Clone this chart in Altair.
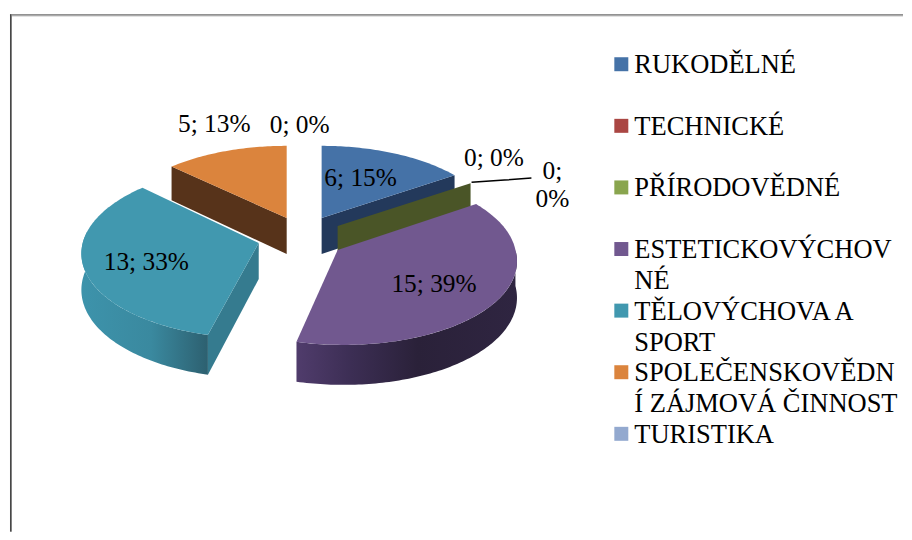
import math
import altair as alt
import pandas as pd

# --- data
categories = ["RUKODĚLNÉ", "TECHNICKÉ", "PŘÍRODOVĚDNÉ", "ESTETICKOVÝCHOVNÉ",
              "TĚLOVÝCHOVA A SPORT", "SPOLEČENSKOVĚDNÍ ZÁJMOVÁ ČINNOST", "TURISTIKA"]
legend_lines = ["RUKODĚLNÉ", "TECHNICKÉ", "PŘÍRODOVĚDNÉ", "ESTETICKOVÝCHOV\nNÉ",
                "TĚLOVÝCHOVA A\nSPORT", "SPOLEČENSKOVĚDN\nÍ ZÁJMOVÁ ČINNOST", "TURISTIKA"]
values = [6, 0, 0, 15, 13, 5, 0]
percents = [15, 0, 0, 39, 33, 13, 0]
colors = ["#4572a7", "#aa4643", "#89a54e", "#71588f", "#4198af", "#db843d", "#93a9cf"]

# --- layout of the exploded 3-D pie (image pixels)
apex = {0: (322, 218), 2: (338, 226), 3: (338, 250), 4: (259, 243), 5: (287, 218)}
shrink = {0: (.96, .93), 2: (.96, .93), 3: (1, 1), 4: (.99, 1), 5: (.96, .93)}
shear = {0: 0, 2: 0, 3: .065, 4: -.045, 5: 0}
RX, RY, PERSP, DEPTH = 178, 85.5, .1, 36
label_x = [361, 494.5, 553, 434.5, 146.5, 214.5, 300]
label_y = [186, 166, 179, 292, 270, 132, 133]

total = sum(values)
edges = [0]
for v in values:
    edges.append(edges[-1] + v / total * 360)


def rim(i, deg):
    t = math.radians(deg)
    den = 1 + PERSP * math.cos(t)
    ax, ay = apex[i]
    sx, sy = shrink[i]
    dy = -RY * sy * math.cos(t) / den
    lean = shear[i] * (max(0, dy) if i == 3 else dy)
    return ax + RX * sx * math.sin(t) / den + lean, ay + dy


def drop(deg):
    return DEPTH / (1 + PERSP * math.cos(math.radians(deg)))


def steps(a, b):
    n = max(2, int(abs(b - a)))
    return [a + (b - a) * k / n for k in range(n + 1)]


def top(i):
    return [apex[i]] + [rim(i, d) for d in steps(edges[i], edges[i + 1])]


def radial_wall(i, deg):
    ax, ay = apex[i]
    x, y = rim(i, deg)
    return [(ax, ay), (x, y), (x, y + drop(deg)), (ax, ay + DEPTH)]


def outer_wall(i, a, b):
    ds = steps(a, b)
    upper = [rim(i, d) for d in ds]
    lower = [(rim(i, d)[0], rim(i, d)[1] + drop(d)) for d in reversed(ds)]
    return upper + lower


x_scale = alt.Scale(domain=[8, 904], nice=False, zero=False)
y_scale = alt.Scale(domain=[532, 8], nice=False, zero=False)
X = alt.X("x:Q", axis=None, scale=x_scale)
Y = alt.Y("y:Q", axis=None, scale=y_scale)


def poly(points, fill):
    df = pd.DataFrame({"x": [p[0] for p in points], "y": [p[1] for p in points],
                       "o": list(range(len(points)))})
    return alt.Chart(df).mark_line(fill=fill, strokeOpacity=0, interpolate="linear").encode(
        x=X, y=Y, order="o:Q")


def grad(stops):
    return alt.Gradient(gradient="linear", x1=0, x2=1, y1=0, y2=0,
                        stops=[alt.GradientStop(color=c, offset=o) for o, c in stops])


teal_grad = grad([(0, "#3d93ab"), (.55, "#3a899f"), (1, "#2d6070")])
purple_grad = grad([(0, "#503c6c"), (.25, "#3c2e54"), (.55, "#2a2139"), (1, "#2f2541")])

layers = [
    poly(radial_wall(5, edges[5]), "#57331a"),
    poly(top(5), colors[5]),
    poly(radial_wall(0, edges[1]), "#23395b"),
    poly(top(0), colors[0]),
    poly(radial_wall(2, edges[3]), "#4a5527"),
    poly(outer_wall(4, edges[4], 278), teal_grad),
    poly(radial_wall(4, edges[4]), "#357b8f"),
    poly(top(4), colors[4]),
    poly(outer_wall(3, 90, edges[4]), purple_grad),
    poly(top(3), colors[3]),
]

# frame
frame_h = pd.DataFrame({"x": [10], "x2": [904], "y": [14.5], "y3": [15.5]})
frame_v = pd.DataFrame({"x": [10.5], "x3": [11.5], "y": [14], "y2": [532]})
layers += [
    alt.Chart(frame_h).mark_rule(color="#666666", strokeWidth=1).encode(x=X, x2="x2:Q", y=Y),
    alt.Chart(frame_h).mark_rule(color="#999999", strokeWidth=1).encode(
        x=X, x2="x2:Q", y=alt.Y("y3:Q", axis=None, scale=y_scale)),
    alt.Chart(frame_v).mark_rule(color="#444444", strokeWidth=1).encode(x=X, y=Y, y2="y2:Q"),
    alt.Chart(frame_v).mark_rule(color="#808080", strokeWidth=1).encode(
        x=alt.X("x3:Q", axis=None, scale=x_scale), y=Y, y2="y2:Q"),
]

# leader line of the wrapped zero label
leader = pd.DataFrame({"x": [rim(2, edges[3])[0] + 1, 505, 532],
                       "y": [rim(2, edges[3])[1] - 1, 180, 178]})
layers.append(alt.Chart(leader).mark_line(color="#000000", strokeWidth=1.5).encode(x=X, y=Y))

# data labels
FONT = "Liberation Serif"
labels = pd.DataFrame({
    "x": label_x, "y": label_y,
    "t": [f"{v};\n{p}%" if i == 2 else f"{v}; {p}%" for i, (v, p) in enumerate(zip(values, percents))],
})
layers.append(alt.Chart(labels).mark_text(font=FONT, fontSize=25.4, color="#000000", align="center",
                                          baseline="alphabetic", lineBreak="\n", lineHeight=28).encode(
    x=X, y=Y, text="t:N"))

# legend
legend_df = pd.DataFrame({"c": categories, "t": legend_lines})
legend_y = alt.Y("c:N", axis=None,
                 scale=alt.Scale(type="point", domain=categories, range=[56, 426], padding=0))
layers.append(alt.Chart(legend_df).mark_square(size=196, opacity=1).encode(
    x=alt.value(614), y=legend_y,
    color=alt.Color("c:N", legend=None, scale=alt.Scale(domain=categories, range=colors))))
layers.append(alt.Chart(legend_df).mark_text(font=FONT, fontSize=26.5, color="#000000", align="left",
                                             baseline="top", lineBreak="\n", lineHeight=31, dy=-12).encode(
    x=alt.value(627), y=legend_y, text="t:N"))

chart = alt.layer(*layers).resolve_scale(y="independent", x="independent", color="independent").properties(
    width=896, height=524, padding=0, background="#ffffff"
).configure_view(stroke=None)

chart.save("out.html", embed_options={"renderer": "svg", "actions": False})
